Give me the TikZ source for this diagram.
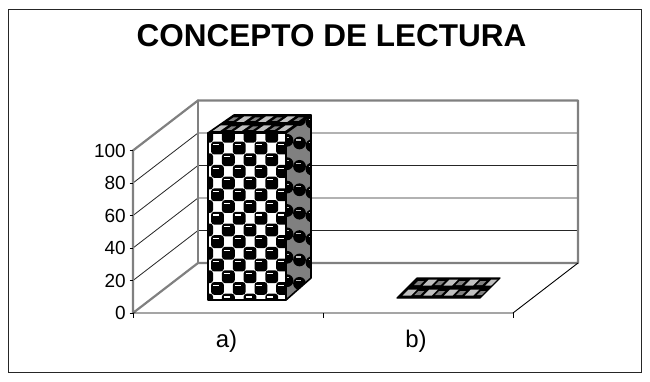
\documentclass[tikz,border=0pt]{standalone}
\usepackage{fontspec}
\setmainfont{Liberation Sans}
\definecolor{wallgray}{HTML}{808080}
\definecolor{lightpat}{HTML}{C0C0C0}
\tikzset{
  wallline/.style={draw=wallgray,line width=2.2pt,line cap=round,line join=round},
  gridline/.style={draw=black!85,line width=0.8pt},
  edgeline/.style={draw=black,line width=0.9pt},
  barline/.style={draw=black,line width=1.6pt,line join=round},
  ylab/.style={anchor=east,inner sep=0pt,font=\fontsize{19}{21}\selectfont},
  xlab/.style={anchor=base,inner sep=0pt,font=\fontsize{24}{26}\selectfont},
  ball/.style={fill=black,rounded corners=3pt},
  hilite/.style={draw=white,line width=1.2pt},
}
\begin{document}
\begin{tikzpicture}[x=1pt,y=-1pt]
\useasboundingbox (0,0) rectangle (650,382);
% outer frame
\draw[black!85,line width=1.2pt] (8.7,9.7) rectangle (641.5,372.5);
% title
\node[anchor=base,inner sep=0pt,font=\fontsize{31.5}{36}\selectfont\bfseries] (title) at (331.5,47) {CONCEPTO DE LECTURA};
% key corners
\coordinate (F0) at (133,313);
\coordinate (F100) at (133,150.5);
\coordinate (B0) at (198,263);
\coordinate (B100) at (198,100.5);
\coordinate (BR0) at (578,263);
\coordinate (BR100) at (578,100.5);
\coordinate (FR) at (513,313);
\coordinate (FM) at (323,313);
% gridlines on back and left wall
\foreach \yf/\yb in {280.5/230.5,248/198,215.5/165.5,183/133}{
  \draw[gridline] (133,\yf) -- (198,\yb) -- (578,\yb);
}
% walls
\draw[wallline] (F0) -- (F100) -- (B100) -- (BR100) -- (BR0) -- (B0) -- cycle;
\draw[wallline] (B0) -- (B100);
% floor
\draw[edgeline] (F0) -- (FR) -- (BR0);
% ticks
\foreach \v/\y in {0/313,20/280.5,40/248,60/215.5,80/183,100/150.5}{
  \draw[edgeline] (129.5,\y) -- (133,\y);
  \node[ylab] (y\v) at (126,\y) {\v};
}
\draw[edgeline] (F0) -- ++(0,5);
\draw[edgeline] (FM) -- ++(0,5);
\draw[edgeline] (FR) -- ++(0,5);
% category labels
\node[xlab] (cata) at (226.5,347.5) {a)};
\node[xlab] (catb) at (416,347.5) {b)};

% ---------- bar a ----------
\coordinate (A1) at (208,133);
\coordinate (A2) at (286,133);
\coordinate (A3) at (286,300);
\coordinate (A4) at (208,300);
\coordinate (A5) at (234,115);
\coordinate (A6) at (311,115);
\coordinate (A7) at (311,278);
% front face
\begin{scope}
  \clip (A1) -- (A2) -- (A3) -- (A4) -- cycle;
  \fill[white] (A1) -- (A2) -- (A3) -- (A4) -- cycle;
  \foreach \i in {-1,...,7}{
    \foreach \j in {-2,...,15}{
      \pgfmathparse{int(mod(\i+\j+20,2))}
      \ifnum\pgfmathresult=0
        \pgfmathsetmacro{\cx}{217.5+10.85*\i}
        \pgfmathsetmacro{\cy}{148+11.7*\j}
        \fill[ball] (\cx-6.4,\cy-6.4) rectangle (\cx+6.4,\cy+6.4);
        \draw[hilite] (\cx-4.5,\cy-3.2) -- (\cx+1.5,\cy-3.2);
      \fi
    }
  }
\end{scope}
% right face
\begin{scope}
  \clip (A2) -- (A6) -- (A7) -- (A3) -- cycle;
  \fill[wallgray] (A2) -- (A6) -- (A7) -- (A3) -- cycle;
  \foreach \i in {0,1,2}{
    \foreach \j in {-1,...,15}{
      \pgfmathparse{int(mod(\i+\j+20,2))}
      \ifnum\pgfmathresult=0
        \pgfmathsetmacro{\cx}{287+12.5*\i}
        \pgfmathsetmacro{\cy}{141+11.7*\j-0.72*(\cx-286)}
        \fill[black] (\cx,\cy) circle (6.4);
        \draw[lightpat,line width=1.1pt] (\cx-3.5,\cy-3) -- (\cx+1.5,\cy-3);
      \fi
    }
  }
\end{scope}
% top face
\begin{scope}
  \clip (A1) -- (A5) -- (A6) -- (A2) -- cycle;
  \fill[black] (A1) -- (A5) -- (A6) -- (A2) -- cycle;
  \begin{scope}[shift={(208,133)},xslant=1.444]
    \foreach \i in {0,...,8}{
      \foreach \j in {0,1}{
        \pgfmathparse{int(mod(\i+\j,2))}
        \ifnum\pgfmathresult=0
          \fill[lightpat] ({1.5+10.85*\i},{-2-9*\j}) rectangle ({9+10.85*\i},{-7.5-9*\j});
        \else
          \fill[wallgray] ({3+10.85*\i},{-3-9*\j}) rectangle ({8+10.85*\i},{-6.5-9*\j});
        \fi
      }
    }
  \end{scope}
\end{scope}
\draw[barline] (A1) -- (A2) -- (A3) -- (A4) -- cycle;
\draw[barline] (A1) -- (A5) -- (A6) -- (A2);
\draw[barline] (A6) -- (A7) -- (A3);

% ---------- bar b (height zero) ----------
\coordinate (Bb1) at (397,298);
\coordinate (Bb2) at (480,298);
\coordinate (Bb3) at (500,278);
\coordinate (Bb4) at (417,278);
\begin{scope}
  \clip (Bb1) -- (Bb2) -- (Bb3) -- (Bb4) -- cycle;
  \fill[black] (Bb1) -- (Bb2) -- (Bb3) -- (Bb4) -- cycle;
  \begin{scope}[shift={(397,298)},xslant=1]
    \foreach \i in {0,...,8}{
      \foreach \j in {0,1}{
        \pgfmathparse{int(mod(\i+\j,2))}
        \ifnum\pgfmathresult=0
          \fill[lightpat] ({3+10.4*\i},{-2.5-10*\j}) rectangle ({11.5+10.4*\i},{-8.5-10*\j});
        \else
          \fill[wallgray] ({4+10.4*\i},{-3-10*\j}) rectangle ({10+10.4*\i},{-7-10*\j});
        \fi
      }
    }
  \end{scope}
\end{scope}
\draw[barline,line width=1.2pt] (Bb1) -- (Bb2) -- (Bb3) -- (Bb4) -- cycle;
\end{tikzpicture}
\end{document}
